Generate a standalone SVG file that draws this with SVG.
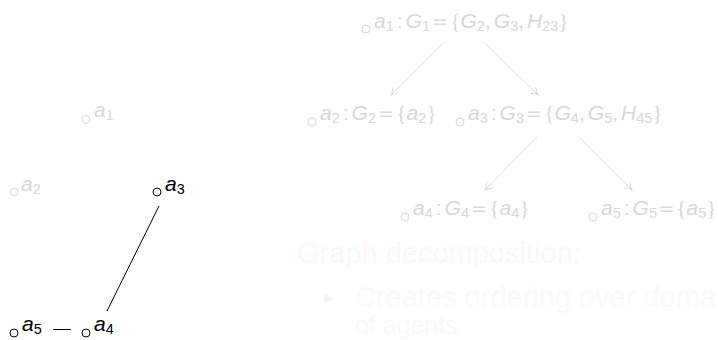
<svg xmlns="http://www.w3.org/2000/svg" width="718" height="340" viewBox="0 0 718 340">
<style>
.m{font-family:"Liberation Sans",Arial,sans-serif;font-size:21px}
.i{font-style:italic}
.s{font-size:14.5px;font-style:normal}
.r{font-family:"DejaVu Sans",sans-serif;font-size:19px}
.b{font-family:"Liberation Serif",serif;font-size:22px}
.k{fill:#000}
.g{fill:#d8d8d8}
.ck{fill:none;stroke:#000;stroke-width:1}
.cg{fill:none;stroke:#d8d8d8;stroke-width:1}
.e{stroke:#000;stroke-width:1;fill:none}
.a{stroke:#d9d9d9;stroke-width:1;fill:none}
.h{font-family:"Liberation Sans",Arial,sans-serif;font-size:29px}
</style>
<defs>
<marker id="ar" markerUnits="userSpaceOnUse" markerWidth="14" markerHeight="14" viewBox="-10 -7 14 14" refX="0" refY="0" orient="auto">
<path d="M-7,-4 Q-3,-1 0,0 Q-3,1 -7,4" fill="none" stroke="#d9d9d9" stroke-width="1"/>
</marker>
</defs>
<g id="left-edges">
<line class="e" x1="159" y1="206" x2="107" y2="311"/>
<line class="e" x1="53" y1="329.5" x2="71" y2="329.5"/>
</g>
<g id="n-a1"><circle class="cg" cx="86" cy="119.5" r="4"/><text class="m g" x="94" y="117"><tspan class="i">a</tspan><tspan class="s" dy="3">1</tspan></text></g>
<g id="n-a2"><circle class="cg" cx="14" cy="192" r="4"/><text class="m g" x="21" y="191"><tspan class="i">a</tspan><tspan class="s" dy="3">2</tspan></text></g>
<g id="n-a3"><circle class="ck" cx="157" cy="192" r="4"/><text class="m k" x="165" y="191"><tspan class="i">a</tspan><tspan class="s" dy="3">3</tspan></text></g>
<g id="n-a4"><circle class="ck" cx="86" cy="333" r="4"/><text class="m k" x="94" y="331"><tspan class="i">a</tspan><tspan class="s" dy="3">4</tspan></text></g>
<g id="n-a5"><circle class="ck" cx="14" cy="333" r="4"/><text class="m k" x="22" y="331"><tspan class="i">a</tspan><tspan class="s" dy="3">5</tspan></text></g>
<g id="tree-edges">
<line class="a" x1="443" y1="43" x2="391" y2="95" marker-end="url(#ar)"/>
<line class="a" x1="485" y1="43" x2="538" y2="95" marker-end="url(#ar)"/>
<line class="a" x1="537" y1="137" x2="485" y2="190" marker-end="url(#ar)"/>
<line class="a" x1="579" y1="137" x2="632" y2="190" marker-end="url(#ar)"/>
</g>
<g id="t-a1"><circle class="cg" cx="366" cy="29" r="4"/><text class="m g" x="374" y="28"><tspan class="i">a</tspan><tspan class="s" dy="3">1</tspan><tspan dx="3" dy="-3">:</tspan><tspan class="i" dx="3">G</tspan><tspan class="s" dy="3">1</tspan><tspan class="r" dx="2" dy="-3">=</tspan><tspan class="b" dx="2">{</tspan><tspan class="i">G</tspan><tspan class="s" dy="3">2</tspan><tspan dy="-3">,</tspan><tspan class="i" dx="3">G</tspan><tspan class="s" dy="3">3</tspan><tspan dy="-3">,</tspan><tspan class="i" dx="3">H</tspan><tspan class="s" dy="3">23</tspan><tspan class="b" dy="-3">}</tspan></text></g>
<g id="t-a2"><circle class="cg" cx="312" cy="122" r="4"/><text class="m g" x="320" y="120"><tspan class="i">a</tspan><tspan class="s" dy="3">2</tspan><tspan dx="3" dy="-3">:</tspan><tspan class="i" dx="3">G</tspan><tspan class="s" dy="3">2</tspan><tspan class="r" dx="2" dy="-3">=</tspan><tspan class="b" dx="2">{</tspan><tspan class="i">a</tspan><tspan class="s" dy="3">2</tspan><tspan class="b" dy="-3">}</tspan></text></g>
<g id="t-a3"><circle class="cg" cx="460" cy="122" r="4"/><text class="m g" x="468" y="120"><tspan class="i">a</tspan><tspan class="s" dy="3">3</tspan><tspan dx="3" dy="-3">:</tspan><tspan class="i" dx="3">G</tspan><tspan class="s" dy="3">3</tspan><tspan class="r" dx="2" dy="-3">=</tspan><tspan class="b" dx="2">{</tspan><tspan class="i">G</tspan><tspan class="s" dy="3">4</tspan><tspan dy="-3">,</tspan><tspan class="i" dx="3">G</tspan><tspan class="s" dy="3">5</tspan><tspan dy="-3">,</tspan><tspan class="i" dx="3">H</tspan><tspan class="s" dy="3">45</tspan><tspan class="b" dy="-3">}</tspan></text></g>
<g id="t-a4"><circle class="cg" cx="405" cy="217" r="4"/><text class="m g" x="413" y="215"><tspan class="i">a</tspan><tspan class="s" dy="3">4</tspan><tspan dx="3" dy="-3">:</tspan><tspan class="i" dx="3">G</tspan><tspan class="s" dy="3">4</tspan><tspan class="r" dx="2" dy="-3">=</tspan><tspan class="b" dx="2">{</tspan><tspan class="i">a</tspan><tspan class="s" dy="3">4</tspan><tspan class="b" dy="-3">}</tspan></text></g>
<g id="t-a5"><circle class="cg" cx="593" cy="217" r="4"/><text class="m g" x="601" y="215"><tspan class="i">a</tspan><tspan class="s" dy="3">5</tspan><tspan dx="3" dy="-3">:</tspan><tspan class="i" dx="3">G</tspan><tspan class="s" dy="3">5</tspan><tspan class="r" dx="1.5" dy="-3">=</tspan><tspan class="b" dx="1.5">{</tspan><tspan class="i">a</tspan><tspan class="s" dy="3">5</tspan><tspan class="b" dy="-3">}</tspan></text></g>
<g id="slide-text">
<text class="h" x="297" y="263" fill="#fff5f5">Graph decomposition:</text>
<polygon points="324,293 334,298.5 324,304" fill="#f5f5f5"/>
<text class="h" x="355" y="307" fill="#fafafa">Creates ordering over doma</text>
<text class="h" x="355" y="334" fill="#fafafa" style="font-size:25px">of agents</text>
</g>
</svg>
